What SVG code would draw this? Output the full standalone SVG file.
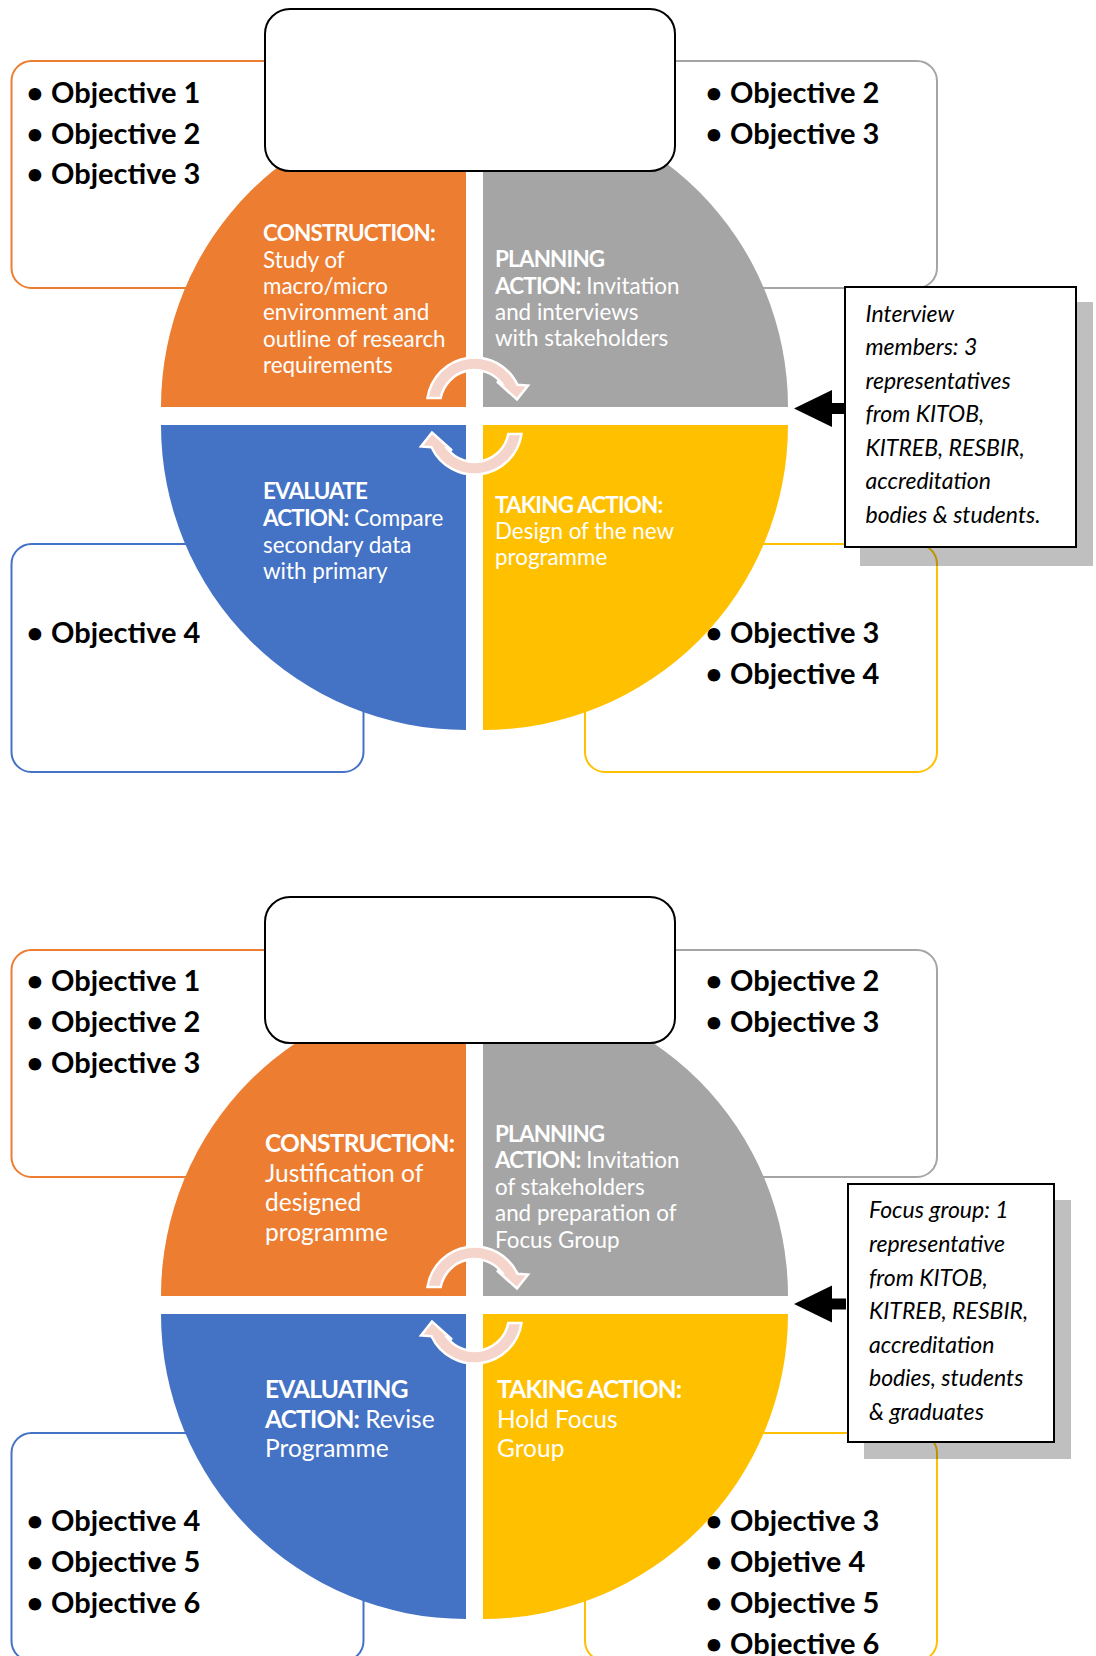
<svg xmlns="http://www.w3.org/2000/svg" xmlns:xlink="http://www.w3.org/1999/xlink" width="1096" height="1656" viewBox="0 0 1096 1656">
  <style>
    text { font-family: Lato, "Liberation Sans", sans-serif; }
    .obj { font-weight: bold; font-size: 29px; fill: #000; }
    .q { font-size: 22.4px; fill: #fff; }
    .q2 { font-size: 24.5px; fill: #fff; }
    .b { font-weight: bold; letter-spacing: -0.8px; }
    .note { font-style: italic; font-size: 23px; fill: #000; }
    .box { fill: #fff; stroke-width: 2; }
    .title { fill: #fff; stroke: #000; stroke-width: 2; }
    .callout { fill: #fff; stroke: #000; stroke-width: 2; }
    .shadow { fill: #000; fill-opacity: 0.25; }
    .cyc { fill: #F5D5CB; stroke: #fff; stroke-width: 2.5; stroke-linejoin: miter; }
  </style>
  <defs>
    <!-- curved cycle arrow between the upper quadrants -->
    <path id="cycArrow" class="cyc" d="M427.5,398 A47.5,47.5 0 0 1 517.5,384.8 L528,385.5 L517,399.5 L497,381.5 L501.5,383 A34.5,34.5 0 0 0 440.7,398 Z"/>
    <polygon id="blockArrow" points="0,0 38,-18.5 38,-5.5 52,-5.5 52,5.5 38,5.5 38,18.5" fill="#000"/>
  </defs>

  <rect width="1096" height="1656" fill="#fff"/>

  <!-- ================= Cycle 1 ================= -->
  <g id="cycle1">
    <g id="c1-obj-construction">
      <rect class="box" x="11.5" y="61" width="352" height="227" rx="20" stroke="#ED7D31"/>
      <text class="obj"><tspan x="35" y="103" text-anchor="middle">•</tspan><tspan x="51" y="103">Objective 1</tspan></text>
      <text class="obj"><tspan x="35" y="144" text-anchor="middle">•</tspan><tspan x="51" y="144">Objective 2</tspan></text>
      <text class="obj"><tspan x="35" y="184" text-anchor="middle">•</tspan><tspan x="51" y="184">Objective 3</tspan></text>
    </g>
    <g id="c1-obj-planning">
      <rect class="box" x="585" y="61" width="352" height="227" rx="20" stroke="#A5A5A5"/>
      <text class="obj"><tspan x="714" y="103" text-anchor="middle">•</tspan><tspan x="730" y="103">Objective 2</tspan></text>
      <text class="obj"><tspan x="714" y="144" text-anchor="middle">•</tspan><tspan x="730" y="144">Objective 3</tspan></text>
    </g>
    <g id="c1-obj-evaluate">
      <rect class="box" x="11.5" y="544" width="352" height="228" rx="20" stroke="#4472C4"/>
      <text class="obj"><tspan x="35" y="643" text-anchor="middle">•</tspan><tspan x="51" y="643">Objective 4</tspan></text>
    </g>
    <g id="c1-obj-taking">
      <rect class="box" x="585" y="544" width="352" height="228" rx="20" stroke="#FFC000"/>
    </g>

    <g id="c1-construction">
      <path d="M466,407 H161 A305,305 0 0 1 466,102 Z" fill="#ED7D31"/>
      <text class="q">
        <tspan x="263" y="241" class="b">CONSTRUCTION:</tspan>
        <tspan x="263" y="267.5">Study of</tspan>
        <tspan x="263" y="294">macro/micro</tspan>
        <tspan x="263" y="320">environment and</tspan>
        <tspan x="263" y="346.5">outline of research</tspan>
        <tspan x="263" y="373">requirements</tspan>
      </text>
    </g>
    <g id="c1-planning">
      <path d="M483,407 V102 A305,305 0 0 1 788,407 Z" fill="#A5A5A5"/>
      <text class="q">
        <tspan x="495" y="267" class="b">PLANNING</tspan>
        <tspan x="495" y="293.5"><tspan class="b">ACTION:</tspan> Invitation</tspan>
        <tspan x="495" y="320">and interviews</tspan>
        <tspan x="495" y="346">with stakeholders</tspan>
      </text>
    </g>
    <g id="c1-evaluate">
      <path d="M466,425 V730 A305,305 0 0 1 161,425 Z" fill="#4472C4"/>
      <text class="q">
        <tspan x="263" y="499" class="b">EVALUATE</tspan>
        <tspan x="263" y="526"><tspan class="b">ACTION:</tspan> Compare</tspan>
        <tspan x="263" y="552.5">secondary data</tspan>
        <tspan x="263" y="579">with primary</tspan>
      </text>
    </g>
    <g id="c1-taking">
      <path d="M483,425 H788 A305,305 0 0 1 483,730 Z" fill="#FFC000"/>
      <text class="q">
        <tspan x="495" y="513" class="b">TAKING ACTION:</tspan>
        <tspan x="495" y="539">Design of the new</tspan>
        <tspan x="495" y="565">programme</tspan>
      </text>
    </g>
    <!-- yellow objectives sit over the quadrant edge -->
    <g id="c1-obj-taking-text">
      <text class="obj"><tspan x="714" y="643" text-anchor="middle">•</tspan><tspan x="730" y="643">Objective 3</tspan></text>
      <text class="obj"><tspan x="714" y="684" text-anchor="middle">•</tspan><tspan x="730" y="684">Objective 4</tspan></text>
    </g>

    <g id="c1-connectors">
      <use xlink:href="#cycArrow"/>
      <use xlink:href="#cycArrow" transform="rotate(180 474.5 416)"/>
      <use xlink:href="#blockArrow" transform="translate(794 408.5)"/>
    </g>

    <g id="c1-title">
      <rect class="title" x="265" y="9" width="410" height="162" rx="25"/>
    </g>

    <g id="c1-note">
      <rect class="shadow" x="860" y="302" width="233" height="264"/>
      <rect class="callout" x="845" y="287" width="231" height="260"/>
      <text class="note">
        <tspan x="865.5" y="321.5">Interview</tspan>
        <tspan x="865.5" y="355">members: 3</tspan>
        <tspan x="865.5" y="388.5">representatives</tspan>
        <tspan x="865.5" y="422">from KITOB,</tspan>
        <tspan x="865.5" y="455.5">KITREB, RESBIR,</tspan>
        <tspan x="865.5" y="489">accreditation</tspan>
        <tspan x="865.5" y="522.5">bodies &amp; students.</tspan>
      </text>
    </g>
  </g>

  <!-- ================= Cycle 2 ================= -->
  <g id="cycle2">
    <g id="c2-obj-construction">
      <rect class="box" x="11.5" y="950" width="352" height="227" rx="20" stroke="#ED7D31"/>
      <text class="obj"><tspan x="35" y="991" text-anchor="middle">•</tspan><tspan x="51" y="991">Objective 1</tspan></text>
      <text class="obj"><tspan x="35" y="1032" text-anchor="middle">•</tspan><tspan x="51" y="1032">Objective 2</tspan></text>
      <text class="obj"><tspan x="35" y="1072.5" text-anchor="middle">•</tspan><tspan x="51" y="1072.5">Objective 3</tspan></text>
    </g>
    <g id="c2-obj-planning">
      <rect class="box" x="585" y="950" width="352" height="227" rx="20" stroke="#A5A5A5"/>
      <text class="obj"><tspan x="714" y="991" text-anchor="middle">•</tspan><tspan x="730" y="991">Objective 2</tspan></text>
      <text class="obj"><tspan x="714" y="1032" text-anchor="middle">•</tspan><tspan x="730" y="1032">Objective 3</tspan></text>
    </g>
    <g id="c2-obj-evaluating">
      <rect class="box" x="11.5" y="1433" width="352" height="228" rx="20" stroke="#4472C4"/>
      <text class="obj"><tspan x="35" y="1531" text-anchor="middle">•</tspan><tspan x="51" y="1531">Objective 4</tspan></text>
      <text class="obj"><tspan x="35" y="1572" text-anchor="middle">•</tspan><tspan x="51" y="1572">Objective 5</tspan></text>
      <text class="obj"><tspan x="35" y="1613" text-anchor="middle">•</tspan><tspan x="51" y="1613">Objective 6</tspan></text>
    </g>
    <g id="c2-obj-taking">
      <rect class="box" x="585" y="1433" width="352" height="228" rx="20" stroke="#FFC000"/>
    </g>

    <g id="c2-construction">
      <path d="M466,1296 H161 A305,305 0 0 1 466,991 Z" fill="#ED7D31"/>
      <text class="q2">
        <tspan x="265" y="1152" class="b">CONSTRUCTION:</tspan>
        <tspan x="265" y="1181.5">Justification of</tspan>
        <tspan x="265" y="1211">designed</tspan>
        <tspan x="265" y="1240.5">programme</tspan>
      </text>
    </g>
    <g id="c2-planning">
      <path d="M483,1296 V991 A305,305 0 0 1 788,1296 Z" fill="#A5A5A5"/>
      <text class="q">
        <tspan x="495" y="1141.5" class="b">PLANNING</tspan>
        <tspan x="495" y="1168"><tspan class="b">ACTION:</tspan> Invitation</tspan>
        <tspan x="495" y="1194.5">of stakeholders</tspan>
        <tspan x="495" y="1221">and preparation of</tspan>
        <tspan x="495" y="1247.5">Focus Group</tspan>
      </text>
    </g>
    <g id="c2-evaluating">
      <path d="M466,1314 V1619 A305,305 0 0 1 161,1314 Z" fill="#4472C4"/>
      <text class="q2">
        <tspan x="265" y="1398" class="b">EVALUATING</tspan>
        <tspan x="265" y="1427.5"><tspan class="b">ACTION:</tspan> Revise</tspan>
        <tspan x="265" y="1457">Programme</tspan>
      </text>
    </g>
    <g id="c2-taking">
      <path d="M483,1314 H788 A305,305 0 0 1 483,1619 Z" fill="#FFC000"/>
      <text class="q2">
        <tspan x="497" y="1398" class="b">TAKING ACTION:</tspan>
        <tspan x="497" y="1427.5">Hold Focus</tspan>
        <tspan x="497" y="1457">Group</tspan>
      </text>
    </g>
    <g id="c2-obj-taking-text">
      <text class="obj"><tspan x="714" y="1531" text-anchor="middle">•</tspan><tspan x="730" y="1531">Objective 3</tspan></text>
      <text class="obj"><tspan x="714" y="1572" text-anchor="middle">•</tspan><tspan x="730" y="1572">Objetive 4</tspan></text>
      <text class="obj"><tspan x="714" y="1613" text-anchor="middle">•</tspan><tspan x="730" y="1613">Objective 5</tspan></text>
      <text class="obj"><tspan x="714" y="1654" text-anchor="middle">•</tspan><tspan x="730" y="1654">Objective 6</tspan></text>
    </g>

    <g id="c2-connectors">
      <use xlink:href="#cycArrow" transform="translate(0 889)"/>
      <use xlink:href="#cycArrow" transform="translate(0 889) rotate(180 474.5 416)"/>
      <use xlink:href="#blockArrow" transform="translate(794 1304)"/>
    </g>

    <g id="c2-title">
      <rect class="title" x="265" y="897" width="410" height="146" rx="25"/>
    </g>

    <g id="c2-note">
      <rect class="shadow" x="864" y="1200" width="207" height="259"/>
      <rect class="callout" x="848" y="1184" width="206" height="258"/>
      <text class="note">
        <tspan x="869" y="1218.3">Focus group: 1</tspan>
        <tspan x="869" y="1251.9">representative</tspan>
        <tspan x="869" y="1285.5">from KITOB,</tspan>
        <tspan x="869" y="1319.1">KITREB, RESBIR,</tspan>
        <tspan x="869" y="1352.7">accreditation</tspan>
        <tspan x="869" y="1386.3">bodies, students</tspan>
        <tspan x="869" y="1420">&amp; graduates</tspan>
      </text>
    </g>
  </g>
</svg>
